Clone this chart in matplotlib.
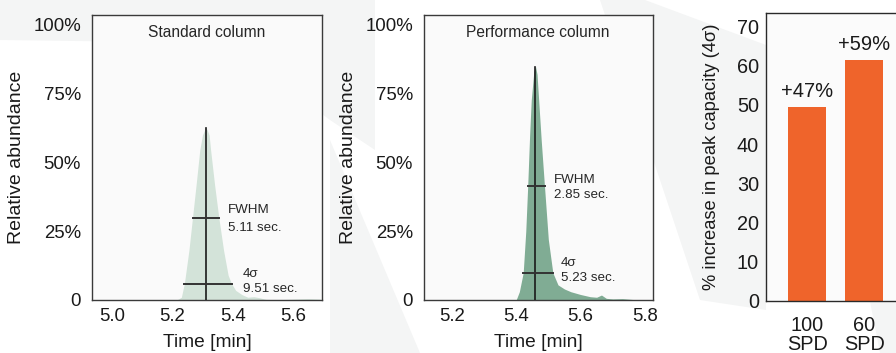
import matplotlib
matplotlib.use("Agg")
import matplotlib.pyplot as plt
from matplotlib.patches import Polygon

plt.rcParams['font.family'] = ['Liberation Sans', 'DejaVu Sans']

# ---------------- data ----------------
std_time = [5.215, 5.23, 5.24, 5.255, 5.267, 5.28, 5.291, 5.30, 5.31, 5.315, 5.322,
            5.327, 5.34, 5.354, 5.37, 5.385, 5.396, 5.41, 5.43, 5.45, 5.47, 5.49,
            5.51, 5.55, 5.60, 5.65, 5.69]
std_abund = [0, 1, 6, 18, 30, 43, 54.5, 60, 62.5, 62, 60,
             54.5, 42, 30, 18, 9, 6, 3.5, 2, 1, 1.2, 0.8,
             0.2, 0.1, 0.3, 0.5, 0.3]
std_apex = 5.313
std_apex_h = 62.5
std_fwhm = (5.267, 5.354, 29.7)
std_4s = (5.239, 5.398, 5.8)

perf_time = [5.40, 5.41, 5.422, 5.43, 5.436, 5.442, 5.447, 5.455, 5.46, 5.465, 5.470,
             5.478, 5.488, 5.50, 5.514, 5.53, 5.55, 5.57, 5.60, 5.63, 5.65, 5.665,
             5.68, 5.70, 5.73, 5.76, 5.78]
perf_abund = [0, 3, 9.9, 25, 41.5, 60, 72.7, 83, 85, 82, 72.7,
              58, 41.5, 22, 9.9, 5.5, 4, 3, 2, 1.2, 1.0, 1.8,
              0.6, 0.4, 0.5, 0.2, 0]
perf_apex = 5.46
perf_apex_h = 84.8
perf_fwhm = (5.436, 5.489, 41.5)
perf_4s = (5.422, 5.515, 9.9)

bar_cats = ["100\nSPD", "60\nSPD"]
bar_vals = [49.5, 61.5]
bar_labels = ["+47%", "+59%"]

W, H = 896, 353
fig = plt.figure(figsize=(W / 100, H / 100), dpi=100)
fig.patch.set_facecolor('white')

def px(x, y):
    return (x / W, 1 - y / H)

bg = '#f4f5f5'
for poly in [
    [(0, 0), (375, 0), (375, 150), (330, 120), (250, 60), (150, 42), (0, 40)],
    [(330, 140), (420, 353), (330, 353)],
    [(600, 0), (645, 0), (766, 45), (766, 310), (700, 300), (650, 150)],
    [(860, 250), (896, 240), (896, 353), (880, 353)],
]:
    fig.patches.append(Polygon([px(*p) for p in poly], closed=True, transform=fig.transFigure,
                               facecolor=bg, edgecolor='none', zorder=-5))

def chrom(ax, t, a, apex, apex_h, fwhm, fs, fill, xlim, xticks, title, title_x,
          txt_f, txt_s, lab_x):
    ax.set_facecolor('#fafafa')
    ax.fill_between(t, a, 0, color=fill, lw=0, zorder=1)
    ax.plot([apex, apex], [0, apex_h], color='#1a1a1a', lw=1.2, zorder=3)
    ax.plot([fwhm[0], fwhm[1]], [fwhm[2], fwhm[2]], color='#333333', lw=1.4, zorder=3)
    ax.plot([fs[0], fs[1]], [fs[2], fs[2]], color='#333333', lw=1.4, zorder=3)
    ax.set_xlim(*xlim)
    ax.set_ylim(0, 103.6)
    ax.set_xticks(xticks)
    ax.set_xticklabels([f"{v:.1f}" for v in xticks])
    ax.set_yticks([0, 25, 50, 75, 100])
    ax.set_yticklabels(["0", "25%", "50%", "75%", "100%"])
    ax.tick_params(length=0, labelsize=13.4, colors='#1a1a1a', pad=6)
    ax.tick_params(axis='y', pad=8)
    for s in ax.spines.values():
        s.set_color('#3a3a3a')
        s.set_linewidth(1.0)
    ax.set_xlabel("Time [min]", fontsize=13.8, color='#1a1a1a')
    ax.xaxis.set_label_coords(0.5, -0.118)
    ax.set_ylabel("Relative abundance", fontsize=14, color='#1a1a1a')
    ax.yaxis.set_label_coords(lab_x, 0.5)
    ax.text(title_x, 0.937, title, transform=ax.transAxes, ha='center', va='center',
            fontsize=11.2, color='#262626')
    for (x, y, s) in txt_f + txt_s:
        ax.text(x, y, s, ha='left', va='center', fontsize=9.6, color='#262626', zorder=4)

ax1 = fig.add_axes([92 / W, 1 - 300 / H, 230 / W, 285 / H])
chrom(ax1, std_time, std_abund, std_apex, std_apex_h, std_fwhm, std_4s, '#d3e3d9',
      (4.934, 5.696), [5.0, 5.2, 5.4, 5.6], "Standard column", 0.5,
      [(5.383, 32.7, "FWHM"), (5.383, 26.2, "5.11 sec.")],
      [(5.433, 9.5, "4σ"), (5.433, 4.0, "9.51 sec.")], -0.29)

ax2 = fig.add_axes([424 / W, 1 - 300 / H, 229 / W, 285 / H])
chrom(ax2, perf_time, perf_abund, perf_apex, perf_apex_h, perf_fwhm, perf_4s, '#80ac94',
      (5.114, 5.825), [5.2, 5.4, 5.6, 5.8], "Performance column", 0.495,
      [(5.517, 43.6, "FWHM"), (5.517, 38.2, "2.85 sec.")],
      [(5.539, 13.5, "4σ"), (5.539, 8.0, "5.23 sec.")], -0.293)

# bar panel (extends past figure edge)
ax3 = fig.add_axes([766 / W, 1 - 301 / H, 194 / W, 288 / H])
ax3.set_facecolor('#fbfbfb')
xpos = list(range(len(bar_cats)))
bars = ax3.bar(xpos, bar_vals, width=0.66, color='#ef642b', zorder=2)
for b, lab in zip(bars, bar_labels):
    ax3.annotate(lab, (b.get_x() + b.get_width() / 2, b.get_height()),
                 xytext=(0, 4), textcoords='offset points', ha='center', va='bottom',
                 fontsize=14.5, color='#1a1a1a')
ax3.set_xlim(-0.72, 2.68)
ax3.set_ylim(0, 73.4)
ax3.set_yticks(range(0, 71, 10))
ax3.set_xticks(xpos)
ax3.set_xticklabels(bar_cats, linespacing=0.95)
ax3.tick_params(length=0, labelsize=14.3, colors='#1a1a1a')
ax3.tick_params(axis='x', pad=11)
ax3.tick_params(axis='y', pad=5)
for s in ax3.spines.values():
    s.set_color('#2a2a2a')
    s.set_linewidth(1.0)
ax3.set_ylabel("% increase in peak capacity (4σ)", fontsize=13.2, color='#1a1a1a')
ax3.yaxis.set_label_coords(-0.237, 0.5)

fig.savefig("out.png", dpi=100, facecolor=fig.get_facecolor())
